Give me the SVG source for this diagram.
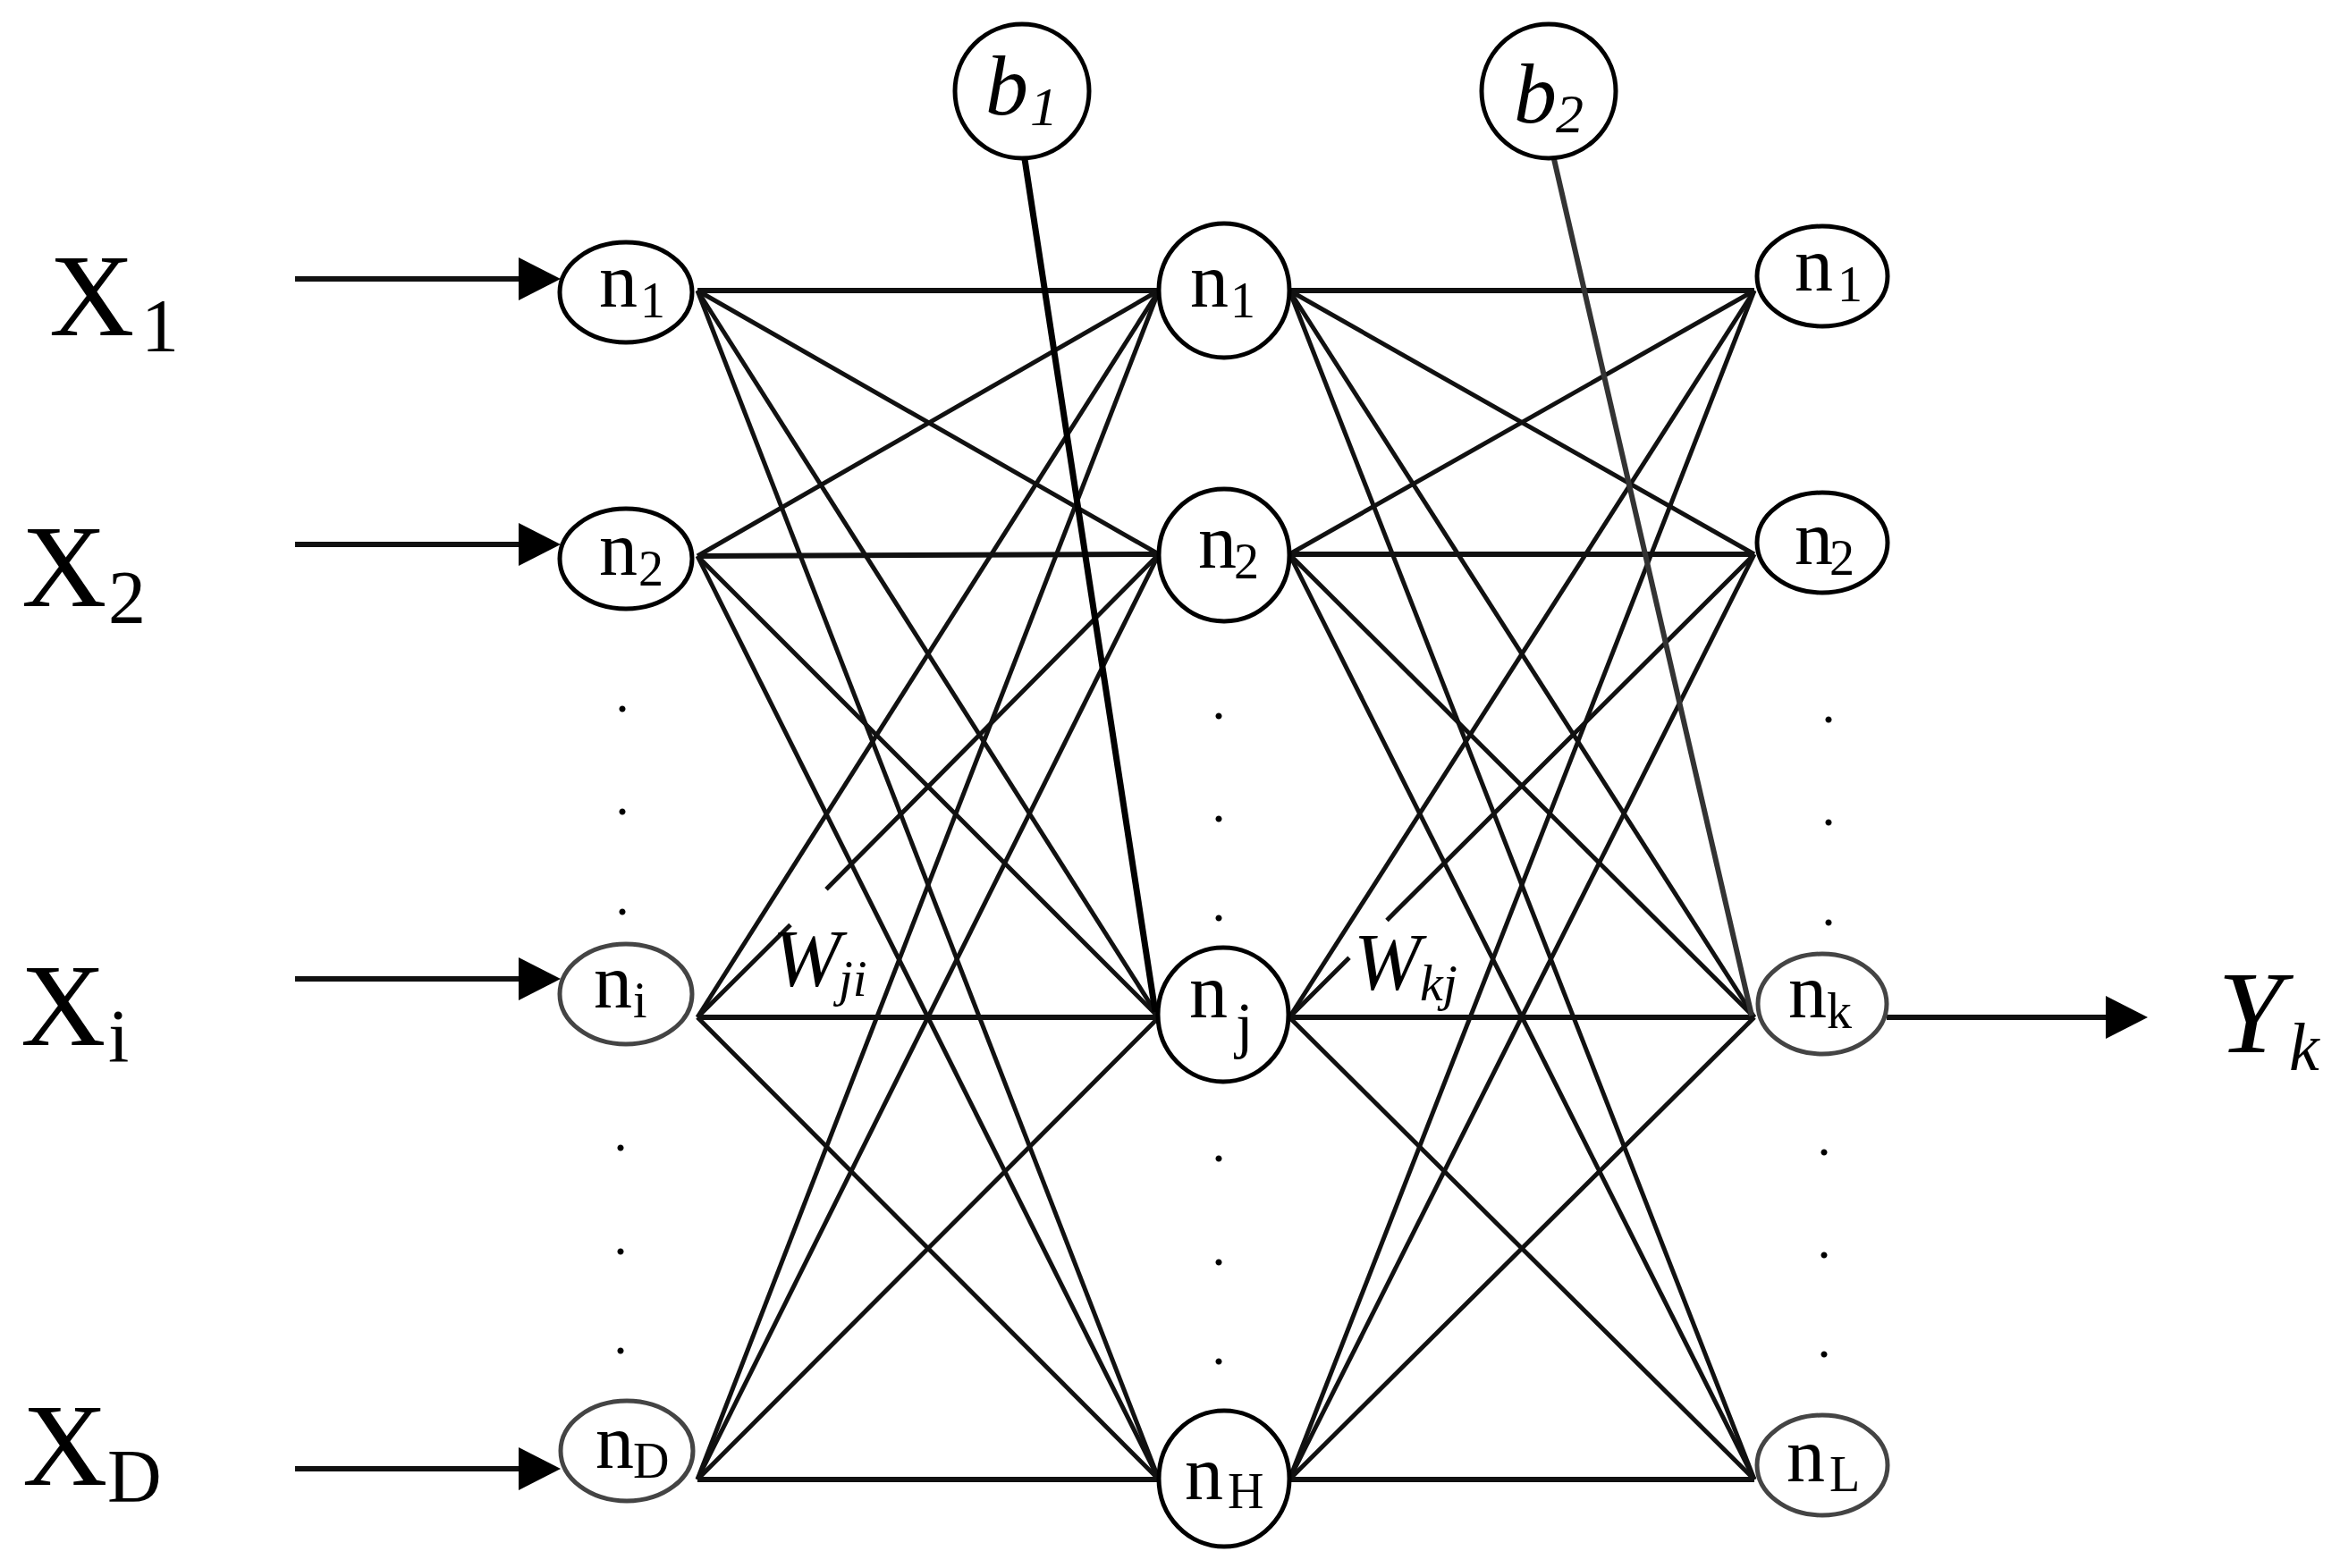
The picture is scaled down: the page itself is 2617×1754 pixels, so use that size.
<svg xmlns="http://www.w3.org/2000/svg" width="2617" height="1754" viewBox="0 0 2617 1754">
<defs>
<marker id="ah" viewBox="0 -24 47 48" refX="0" refY="0" markerWidth="47" markerHeight="48" markerUnits="userSpaceOnUse" orient="auto">
<path d="M0,-24 L47,0 L0,24 Z" fill="#000"/>
</marker>
<style>
.c{stroke:#111;stroke-width:5;fill:none}
.h{stroke:#111;stroke-width:6}
.arr{stroke:#111;stroke-width:6;marker-end:url(#ah)}
.nd{fill:#fff;stroke:#000;stroke-width:5}
.gr{stroke:#444}
.t{font-family:"Liberation Serif","Times New Roman",serif;fill:#000}
.lab{font-size:86px}
.sub{font-size:56px}
.big{font-size:132px}
.bsub{font-size:84px}
.it{font-style:italic}
.dot{font-family:"Liberation Serif",serif;font-size:60px;text-anchor:middle}
</style>
</defs>
<rect width="2617" height="1754" fill="#fff"/>
<g id="connectors">
<g id="input-arrows">
<line class="arr" x1="330" y1="312" x2="580" y2="312"/>
<line class="arr" x1="330" y1="609" x2="580" y2="609"/>
<line class="arr" x1="330" y1="1095" x2="580" y2="1095"/>
<line class="arr" x1="330" y1="1643" x2="580" y2="1643"/>
</g>
<g id="input-hidden">
<line class="c h" x1="780" y1="325" x2="1296" y2="325"/>
<line class="c" x1="780" y1="325" x2="1296" y2="620"/>
<line class="c" x1="780" y1="325" x2="1296" y2="1138"/>
<line class="c" x1="780" y1="325" x2="1296" y2="1655"/>
<line class="c" x1="780" y1="622" x2="1296" y2="325"/>
<line class="c h" x1="780" y1="622" x2="1296" y2="620"/>
<line class="c" x1="780" y1="622" x2="1296" y2="1138"/>
<line class="c" x1="780" y1="622" x2="1296" y2="1655"/>
<line class="c" x1="780" y1="1138" x2="1296" y2="325"/>
<path class="c" d="M780,1138 L884,1034.6 M924,994.8 L1296,620"/>
<line class="c h" x1="780" y1="1138" x2="1296" y2="1138"/>
<line class="c" x1="780" y1="1138" x2="1296" y2="1655"/>
<line class="c" x1="780" y1="1655" x2="1296" y2="325"/>
<line class="c" x1="780" y1="1655" x2="1296" y2="620"/>
<line class="c" x1="780" y1="1655" x2="1296" y2="1138"/>
<line class="c h" x1="780" y1="1655" x2="1296" y2="1655"/>
</g>
<g id="hidden-output">
<line class="c h" x1="1442" y1="325" x2="1962" y2="325"/>
<line class="c" x1="1442" y1="325" x2="1962" y2="620"/>
<line class="c" x1="1442" y1="325" x2="1962" y2="1138"/>
<line class="c" x1="1442" y1="325" x2="1962" y2="1655"/>
<line class="c" x1="1442" y1="620" x2="1962" y2="325"/>
<line class="c h" x1="1442" y1="620" x2="1962" y2="620"/>
<line class="c" x1="1442" y1="620" x2="1962" y2="1138"/>
<line class="c" x1="1442" y1="620" x2="1962" y2="1655"/>
<line class="c" x1="1442" y1="1138" x2="1962" y2="325"/>
<path class="c" d="M1442,1138 L1509,1071.3 M1551,1029.4 L1962,620"/>
<line class="c h" x1="1442" y1="1138" x2="1962" y2="1138"/>
<line class="c" x1="1442" y1="1138" x2="1962" y2="1655"/>
<line class="c" x1="1442" y1="1655" x2="1962" y2="325"/>
<line class="c" x1="1442" y1="1655" x2="1962" y2="620"/>
<line class="c" x1="1442" y1="1655" x2="1962" y2="1138"/>
<line class="c h" x1="1442" y1="1655" x2="1962" y2="1655"/>
</g>
<g id="bias-lines">
<line x1="1146" y1="178" x2="1292" y2="1132" stroke="#000" stroke-width="7"/>
<line x1="1738" y1="178" x2="1959" y2="1136" stroke="#333" stroke-width="6"/>
</g>
<line id="output-arrow" class="arr" x1="2110" y1="1138" x2="2355" y2="1138"/>
</g>
<g id="weight-labels">
<text class="t it" x="864" y="1103" font-size="92">W<tspan x="938" y="1114" font-size="57">ji</tspan></text>
<text class="t it" x="1514" y="1107" font-size="90">W<tspan x="1588" y="1119" font-size="58">kj</tspan></text>
</g>
<g id="input-labels">
<text class="t big" x="55" y="375">X<tspan class="bsub" x="158" y="393">1</tspan></text>
<text class="t big" x="24" y="678">X<tspan class="bsub" x="121" y="697">2</tspan></text>
<text class="t big" x="23" y="1169">X<tspan class="bsub" x="121" y="1188">i</tspan></text>
<text class="t big" x="25" y="1661">X<tspan class="bsub" x="120" y="1680">D</tspan></text>
</g>
<g id="in-n1"><ellipse class="nd" cx="700" cy="327" rx="74" ry="56"/><text class="t lab" x="670" y="343">n<tspan class="sub" x="716" y="355">1</tspan></text></g>
<g id="in-n2"><ellipse class="nd" cx="700" cy="625" rx="74" ry="56"/><text class="t lab" x="670" y="643">n<tspan class="sub" x="714" y="655">2</tspan></text></g>
<g id="in-ni"><ellipse class="nd gr" cx="700" cy="1112" rx="74" ry="56"/><text class="t lab" x="664" y="1127">n<tspan class="sub" x="708" y="1138">i</tspan></text></g>
<g id="in-nD"><ellipse class="nd gr" cx="701" cy="1623" rx="74" ry="56"/><text class="t lab" x="666" y="1642">n<tspan class="sub" x="708" y="1653">D</tspan></text></g>
<g id="hid-n1"><ellipse class="nd" cx="1369" cy="325" rx="73" ry="75"/><text class="t lab" x="1331" y="343">n<tspan class="sub" x="1376" y="355">1</tspan></text></g>
<g id="hid-n2"><ellipse class="nd" cx="1369" cy="621" rx="73" ry="74"/><text class="t lab" x="1340" y="635">n<tspan class="sub" x="1380" y="647">2</tspan></text></g>
<g id="hid-nj"><ellipse class="nd" cx="1368" cy="1135" rx="73" ry="75"/><text class="t lab" x="1330" y="1138">n<tspan x="1382" y="1170" font-size="70">j</tspan></text></g>
<g id="hid-nH"><ellipse class="nd" cx="1369" cy="1654" rx="73" ry="76"/><text class="t lab" x="1325" y="1677">n<tspan class="sub" x="1373" y="1687">H</tspan></text></g>
<g id="out-n1"><ellipse class="nd" cx="2038" cy="309" rx="73" ry="56"/><text class="t lab" x="2007" y="325">n<tspan class="sub" x="2055" y="337">1</tspan></text></g>
<g id="out-n2"><ellipse class="nd" cx="2038" cy="607" rx="73" ry="56"/><text class="t lab" x="2007" y="631">n<tspan class="sub" x="2046" y="643">2</tspan></text></g>
<g id="out-nk"><ellipse class="nd gr" cx="2038" cy="1123" rx="72" ry="56"/><text class="t lab" x="2000" y="1138">n<tspan class="sub" x="2043" y="1150">k</tspan></text></g>
<g id="out-nL"><ellipse class="nd gr" cx="2038" cy="1639" rx="73" ry="56"/><text class="t lab" x="1998" y="1657">n<tspan class="sub" x="2046" y="1668">L</tspan></text></g>
<g id="bias-b1"><ellipse class="nd" cx="1143" cy="102" rx="75" ry="75"/><text class="t it" x="1102" y="128" font-size="96">b<tspan x="1152" y="140" font-size="62">1</tspan></text></g>
<g id="bias-b2"><ellipse class="nd" cx="1732" cy="102" rx="75" ry="75"/><text class="t it" x="1693" y="137" font-size="96">b<tspan x="1740" y="148" font-size="62">2</tspan></text></g>
<g id="output-label">
<text class="t big it" x="2480" y="1177">Y<tspan font-size="76" x="2560" y="1197">k</tspan></text>
</g>
<g id="ellipsis-dots">
<text class="t dot" x="696" y="796">.</text>
<text class="t dot" x="696" y="911">.</text>
<text class="t dot" x="696" y="1023">.</text>
<text class="t dot" x="694" y="1287">.</text>
<text class="t dot" x="694" y="1403">.</text>
<text class="t dot" x="694" y="1514">.</text>
<text class="t dot" x="1363" y="804">.</text>
<text class="t dot" x="1363" y="919">.</text>
<text class="t dot" x="1363" y="1030">.</text>
<text class="t dot" x="1363" y="1299">.</text>
<text class="t dot" x="1363" y="1415">.</text>
<text class="t dot" x="1363" y="1526">.</text>
<text class="t dot" x="2045" y="808">.</text>
<text class="t dot" x="2045" y="923">.</text>
<text class="t dot" x="2045" y="1035">.</text>
<text class="t dot" x="2040" y="1292">.</text>
<text class="t dot" x="2040" y="1407">.</text>
<text class="t dot" x="2040" y="1518">.</text>
</g>
</svg>
